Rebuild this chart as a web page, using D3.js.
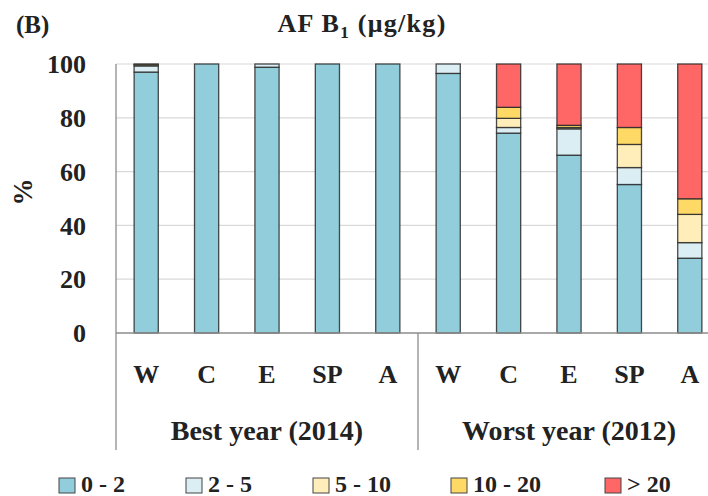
<!DOCTYPE html>
<html><head><meta charset="utf-8">
<script src="https://cdn.jsdelivr.net/npm/d3@7"></script>
<style>body{margin:0;background:#fff}svg{display:block}text{font-family:"Liberation Serif","DejaVu Serif",serif;font-weight:bold;fill:#222}</style>
</head><body><svg id="c" width="708" height="496"></svg>
<script>
const categories = ["W","C","E","SP","A","W","C","E","SP","A"];
const groups = ["Best year (2014)","Worst year (2012)"];
const seriesNames = ["0 - 2","2 - 5","5 - 10","10 - 20","> 20"];
const s0_2   = [97.0, 100, 98.8, 100, 100, 96.5, 74.3, 66.1, 55.2, 27.8];
const s2_5   = [2.3,  0,   1.2,  0,   0,   3.5,  2.1,  9.8,  6.3,  5.8];
const s5_10  = [0.5,  0,   0,    0,   0,   0,    3.4,  0.5,  8.6,  10.5];
const s10_20 = [0.2,  0,   0,    0,   0,   0,    4.1,  0.8,  6.3,  5.8];
const sGt20  = [0,    0,   0,    0,   0,   0,    16.1, 22.8, 23.6, 50.1];
const yTicks = [0,20,40,60,80,100];
const colors = ["#92CDDC","#DAEEF3","#FFEDBA","#FFD966","#FF6666"];

(function(){
const seriesVals = [s0_2,s2_5,s5_10,s10_20,sGt20];
const rows = categories.map((c,i)=>{const r={i}; seriesNames.forEach((n,k)=>r[n]=seriesVals[k][i]); return r;});
const stack = d3.stack().keys(seriesNames)(rows);

const svg = d3.select("#c");
const mL=116, mR=720, mT=64, mB=333;
const x = d3.scaleBand().domain(d3.range(categories.length)).range([mL,mR]).paddingInner(0.6).paddingOuter(0.3);
const y = d3.scaleLinear().domain([0,100]).range([mB,mT]);

svg.append("g").selectAll("line").data(yTicks.filter(t=>t>0)).join("line")
  .attr("x1",mL).attr("x2",708).attr("y1",d=>y(d)).attr("y2",d=>y(d))
  .attr("stroke","#d9d9d9").attr("stroke-width",1.2);

svg.append("g").selectAll("g").data(stack).join("g")
  .attr("fill",(d,k)=>colors[k])
  .selectAll("rect").data(d=>d.filter(s=>s[1]-s[0]>0)).join("rect")
  .attr("x",d=>x(d.data.i)).attr("width",x.bandwidth())
  .attr("y",d=>y(d[1])).attr("height",d=>y(d[0])-y(d[1]))
  .attr("stroke","#2a2a2a").attr("stroke-width",1.3).attr("stroke-opacity",0.85);

svg.append("line").attr("x1",mL).attr("x2",mL).attr("y1",mT).attr("y2",450).attr("stroke","#8c8c8c").attr("stroke-width",1.3);
svg.append("line").attr("x1",mL).attr("x2",708).attr("y1",mB).attr("y2",mB).attr("stroke","#8c8c8c").attr("stroke-width",1.3);
const mid = (x(4)+x.bandwidth()+x(5))/2;
svg.append("line").attr("x1",mid).attr("x2",mid).attr("y1",mB).attr("y2",450).attr("stroke","#8c8c8c").attr("stroke-width",1.3);

svg.append("g").selectAll("text").data(yTicks).join("text")
  .attr("x",86).attr("y",d=>y(d)).attr("dy","0.35em").attr("text-anchor","end")
  .attr("font-size",26).text(d=>d);
svg.append("text").attr("transform","translate(23,192) rotate(-90)").attr("text-anchor","middle")
  .attr("dy","0.35em").attr("font-size",27).text("%");

svg.append("g").selectAll("text").data(categories).join("text")
  .attr("x",(d,i)=>x(i)+x.bandwidth()/2).attr("y",383).attr("text-anchor","middle")
  .attr("font-size",26).text(d=>d);
svg.append("g").selectAll("text").data(groups).join("text")
  .attr("x",(d,i)=> i===0 ? (mL+mid)/2 : mid+(mid-mL)/2).attr("y",440).attr("text-anchor","middle")
  .attr("font-size",28).text(d=>d);

const t = svg.append("text").attr("x",362).attr("y",32).attr("text-anchor","middle").attr("font-size",26).attr("letter-spacing",1.3);
t.append("tspan").text("AF B");
t.append("tspan").attr("font-size",17).attr("dy",6).text("1");
t.append("tspan").attr("dy",-6).text(" (μg/kg)");
svg.append("text").attr("x",16).attr("y",33).attr("font-size",25).text("(B)");

const lx = [59,186,313,451,605];
const lg = svg.append("g").selectAll("g").data(seriesNames).join("g")
  .attr("transform",(d,i)=>`translate(${lx[i]},478)`);
lg.append("rect").attr("width",16).attr("height",15).attr("fill",(d,i)=>colors[i]).attr("stroke","#444").attr("stroke-width",1);
lg.append("text").attr("x",22).attr("y",14).attr("font-size",24).text(d=>d);
})();
</script></body></html>
